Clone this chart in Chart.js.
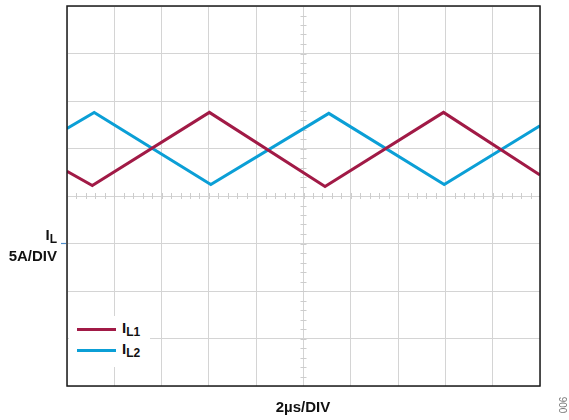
<!DOCTYPE html>
<html lang="en">
<head>
    <meta charset="UTF-8">
    <title>Inductor Currents</title>
    <script src="https://cdn.jsdelivr.net/npm/chart.js"></script>
    <style>
        body { margin: 0; background: #fff; }
        #wrap { position: relative; width: 569px; height: 420px; font-family: "Liberation Sans", Arial, sans-serif; }
        .lbl { position: absolute; font-weight: bold; font-size: 15px; line-height: 15px; color: #111; white-space: nowrap; }
        .lbl sub { font-size: 12px; vertical-align: -3px; line-height: 0; }
        #legend { position: absolute; left: 69px; top: 316px; width: 81px; height: 51px; background: #fff; }
        .swatch { position: absolute; left: 8px; width: 39px; height: 3px; }
        #fig { position: absolute; left: 563px; top: 405px; font-size: 10px; color: #777; transform: translate(-50%, -50%) rotate(-90deg); }
    </style>
</head>
<body>
<div id="wrap">
    <canvas id="scopeChart" width="569" height="420"></canvas>
    <div class="lbl" style="right:512px; top:227px;">I<sub>L</sub></div>
    <div class="lbl" style="right:512px; top:248px;">5A/DIV</div>
    <div class="lbl" style="left:203px; width:200px; text-align:center; top:399px;">2µs/DIV</div>
    <div id="legend">
        <div class="swatch" id="sw1" style="top:12px;"></div>
        <div class="swatch" id="sw2" style="top:33px;"></div>
        <div class="lbl" style="left:53px; top:4px;">I<sub>L1</sub></div>
        <div class="lbl" style="left:53px; top:25px;">I<sub>L2</sub></div>
    </div>
    <div id="fig">006</div>
</div>

<script>
    // trace vertices, time in µs, current in A
    const il1Time = [0, 1.07, 6.02, 10.91, 15.92, 20];
    const il1Amps = [7.6, 6.1, 13.8, 6.0, 13.8, 7.2];
    const il2Time = [0, 1.15, 6.08, 11.07, 15.95, 20];
    const il2Amps = [12.1, 13.8, 6.2, 13.7, 6.2, 12.4];

    const il1Color = '#a11a46';
    const il2Color = '#0b9fd6';

    document.getElementById('sw1').style.background = il1Color;
    document.getElementById('sw2').style.background = il2Color;

    const toPoints = (xs, ys) => xs.map((x, i) => ({ x: x, y: ys[i] }));

    // frame, center-line minor ticks and ground marker
    const scopeDecor = {
        id: 'scopeDecor',
        beforeDatasetsDraw(chart) {
            const ctx = chart.ctx;
            const x = chart.scales.x, y = chart.scales.y;
            const cy = y.getPixelForValue(5), cx = x.getPixelForValue(10);
            ctx.save();
            ctx.strokeStyle = '#cdcdcd';
            ctx.lineWidth = 1;
            ctx.beginPath();
            for (let t = 0; t <= 20.001; t += 0.4) {
                const px = Math.round(x.getPixelForValue(t)) + 0.5;
                ctx.moveTo(px, cy - 3); ctx.lineTo(px, cy + 3);
            }
            for (let a = -15; a <= 25.001; a += 1) {
                const py = Math.round(y.getPixelForValue(a)) + 0.5;
                ctx.moveTo(cx - 3, py); ctx.lineTo(cx + 3, py);
            }
            ctx.stroke();
            ctx.restore();
        },
        afterDraw(chart) {
            const ctx = chart.ctx;
            const a = chart.chartArea;
            ctx.save();
            ctx.strokeStyle = '#1a1a1a';
            ctx.lineWidth = 1.5;
            ctx.strokeRect(a.left, a.top, a.right - a.left, a.bottom - a.top);
            const gy = chart.scales.y.getPixelForValue(0);
            ctx.strokeStyle = '#4f8fcc';
            ctx.lineWidth = 1.2;
            ctx.beginPath();
            ctx.moveTo(a.left - 6, gy); ctx.lineTo(a.left - 1, gy);
            ctx.stroke();
            ctx.restore();
        }
    };

    const scopeCtx = document.getElementById('scopeChart').getContext('2d');
    let scopeChart = new Chart(scopeCtx, {
        type: 'line',
        data: {
            datasets: [{
                label: 'IL1',
                data: toPoints(il1Time, il1Amps),
                borderColor: il1Color,
                borderWidth: 3,
                pointRadius: 0,
                tension: 0
            }, {
                label: 'IL2',
                data: toPoints(il2Time, il2Amps),
                borderColor: il2Color,
                borderWidth: 3,
                pointRadius: 0,
                tension: 0
            }]
        },
        options: {
            responsive: false,
            animation: false,
            layout: { padding: { left: 67, right: 29, top: 6, bottom: 34 } },
            plugins: { legend: { display: false }, tooltip: { enabled: false } },
            scales: {
                x: {
                    type: 'linear', min: 0, max: 20,
                    ticks: { display: false, stepSize: 2 },
                    grid: { color: '#d4d4d4', drawTicks: false },
                    border: { display: false }
                },
                y: {
                    min: -15, max: 25,
                    ticks: { display: false, stepSize: 5 },
                    grid: { color: '#d4d4d4', drawTicks: false },
                    border: { display: false }
                }
            }
        },
        plugins: [scopeDecor]
    });
</script>
</body>
</html>
